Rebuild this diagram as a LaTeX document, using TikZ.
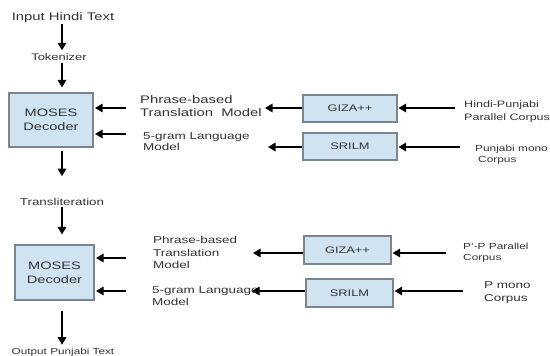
\documentclass[tikz,border=0pt]{standalone}
\usepackage{fontspec}
\setmainfont{Liberation Sans}[FakeStretch=1.35]
\usetikzlibrary{arrows.meta}
\definecolor{boxfill}{RGB}{207,227,241}
\definecolor{boxline}{RGB}{125,133,140}
\definecolor{txt}{RGB}{50,50,50}
\newcommand\myfs[2]{\fontsize{#1}{#2}\selectfont}
\begin{document}
\begin{tikzpicture}[x=1pt,y=-1pt,
  box/.style={draw=boxline, line width=1.2pt, fill=boxfill, inner sep=0pt, align=center, text=txt},
  lbl/.style={inner sep=0pt, align=left, anchor=west, text=txt},
  ctr/.style={inner sep=0pt, text=txt},
  arr/.style={line width=1.5pt, -{Triangle[length=7.5pt,width=8.5pt]}}]
\useasboundingbox (0,0) rectangle (550,356);
\coordinate (col) at (62,0);
% ---------- top stage ----------
\node[ctr, font=\myfs{11}{13}] (in) at (63,18) {Input Hindi Text};
\node[ctr, font=\myfs{9.6}{11}] (tok) at (59,57) {Tokenizer};
\node[box, minimum width=84pt, minimum height=54pt, font=\myfs{10.8}{14}] (m1) at (51,120) {MOSES\\Decoder};
\node[lbl, font=\myfs{11}{12.5}] (pb1) at (140,106) {Phrase-based\\Translation\ \ Model};
\node[lbl, font=\myfs{10}{11}] (lm1) at (143,142) {5-gram Language\\Model};
\node[box, minimum width=94pt, minimum height=27pt, font=\myfs{9.5}{11}] (g1) at (350,108.5) {GIZA++};
\node[box, minimum width=94pt, minimum height=27pt, font=\myfs{9.5}{11}] (s1) at (350,146.5) {SRILM};
\node[lbl, font=\myfs{9.3}{13}] (hp) at (464,111.5) {Hindi-Punjabi\\Parallel Corpus};
\node[lbl, font=\myfs{8.8}{11}] (pm) at (475,154.5) {Punjabi mono\\\hspace{3pt}Corpus};
% ---------- bottom stage ----------
\node[ctr, font=\myfs{9.9}{11}] (tr) at (62,202) {Transliteration};
\node[box, minimum width=79pt, minimum height=55pt, font=\myfs{10.8}{14}] (m2) at (54.5,272.5) {MOSES\\Decoder};
\node[lbl, font=\myfs{10}{12.5}] (pb2) at (153,252.5) {Phrase-based\\Translation\\Model};
\node[lbl, font=\myfs{10}{12}] (lm2) at (152,296) {5-gram Language\\Model};
\node[box, minimum width=87pt, minimum height=28pt, font=\myfs{9.5}{11}] (g2) at (347.5,250) {GIZA++};
\node[box, minimum width=87pt, minimum height=28pt, font=\myfs{9.5}{11}] (s2) at (349.5,293) {SRILM};
\node[lbl, font=\myfs{8.8}{11}] (pp) at (463,252.5) {P'-P Parallel\\Corpus};
\node[lbl, font=\myfs{10}{13}] (pmo) at (484,292.5) {P mono\\Corpus};
\node[ctr, font=\myfs{8.7}{10}] (out) at (63,352) {Output Punjabi Text};
% ---------- vertical flow ----------
\draw[arr, shorten <=1pt, shorten >=3pt] (in.south -| col) -- (tok.north -| col);
\draw[arr, shorten <=2pt, shorten >=5pt] (tok.south -| col) -- (m1.north -| col);
\draw[arr, shorten <=3pt, shorten >=22pt] (m1.south -| col) -- (tr.north -| col);
\draw[arr, shorten <=1pt, shorten >=10pt] (tr.south -| col) -- (m2.north -| col);
\draw[arr, shorten <=10pt, shorten >=3pt] (m2.south -| col) -- (out.north -| col);
% ---------- side inputs, top ----------
\coordinate (a1) at (126,108);
\coordinate (a2) at (126,134);
\draw[arr, shorten >=1.5pt] (a1) -- (a1 -| m1.east);
\draw[arr, shorten >=1.5pt] (a2) -- (a2 -| m1.east);
\coordinate (g1t) at (265,108);
\coordinate (s1t) at (268,147);
\draw[arr] (g1.west |- g1t) -- (g1t);
\draw[arr] (s1.west |- s1t) -- (s1t);
\coordinate (c1) at (455,108);
\coordinate (c2) at (460,147);
\draw[arr, shorten >=1pt] (c1) -- (c1 -| g1.east);
\draw[arr, shorten >=1pt] (c2) -- (c2 -| s1.east);
% ---------- side inputs, bottom ----------
\coordinate (b1) at (126,258);
\coordinate (b2) at (126,291);
\draw[arr, shorten >=1.5pt] (b1) -- (b1 -| m2.east);
\draw[arr, shorten >=1.5pt] (b2) -- (b2 -| m2.east);
\coordinate (g2t) at (253,253);
\coordinate (s2t) at (252,291);
\draw[arr] (g2.west |- g2t) -- (g2t);
\draw[arr] (s2.west |- s2t) -- (s2t);
\coordinate (d1) at (446,253);
\coordinate (d2) at (463,291);
\draw[arr, shorten >=1pt] (d1) -- (d1 -| g2.east);
\draw[arr, shorten >=1pt] (d2) -- (d2 -| s2.east);
\end{tikzpicture}
\end{document}
